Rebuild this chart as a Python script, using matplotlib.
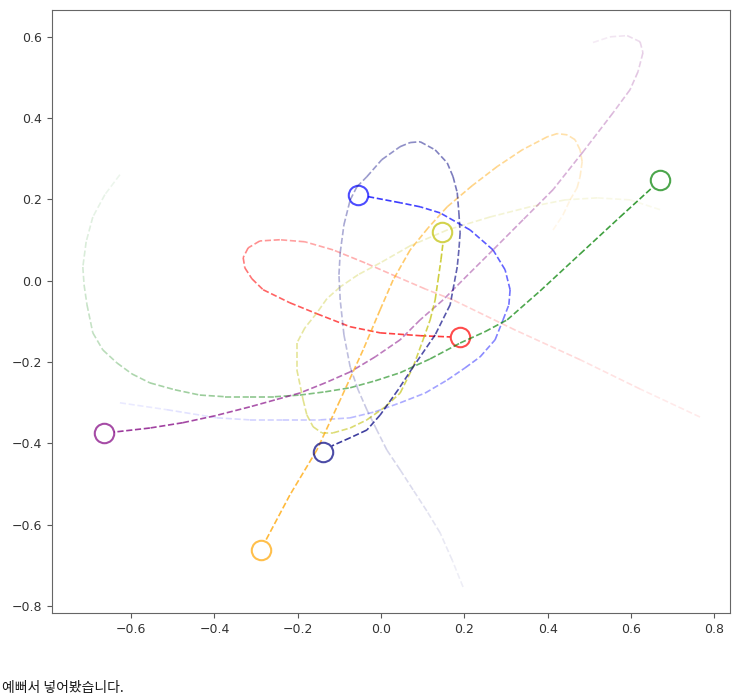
import matplotlib
matplotlib.use('Agg')
from matplotlib import pyplot as plt

# trajectories, oldest point first; the line stops at the edge of the circle
red_x = [0.766, 0.622, 0.478, 0.322, 0.173, 0.106, 0.038, -0.038, -0.115, -0.183, -0.243, -0.291, -0.319, -0.331, -0.327, -0.310,
         -0.283, -0.219, -0.154, -0.074, -0.002, 0.094, 0.166]
red_y = [-0.335, -0.266, -0.194, -0.121, -0.047, -0.020, 0.010, 0.044, 0.076, 0.096, 0.101, 0.098, 0.081, 0.057, 0.032, 0.005,
         -0.022, -0.054, -0.081, -0.113, -0.128, -0.135, -0.138]

blue_x = [-0.627, -0.514, -0.394, -0.315, -0.235, -0.146, -0.074, -0.014, 0.046, 0.106, 0.159, 0.202, 0.238, 0.274, 0.293, 0.307,
          0.310, 0.298, 0.269, 0.214, 0.142, 0.094, 0.046, -0.031]
blue_y = [-0.300, -0.317, -0.337, -0.342, -0.342, -0.342, -0.337, -0.322, -0.300, -0.276, -0.244, -0.214, -0.187, -0.145, -0.096, -0.059,
          -0.022, 0.027, 0.076, 0.125, 0.167, 0.182, 0.192, 0.207]

green_x = [-0.627, -0.663, -0.692, -0.708, -0.716, -0.713, -0.706, -0.692, -0.668, -0.634, -0.598, -0.555, -0.495, -0.435, -0.375,
           -0.315, -0.255, -0.195, -0.134, -0.074, -0.014, 0.046, 0.118, 0.190, 0.250, 0.303, 0.382, 0.478, 0.574, 0.651]
green_y = [0.261, 0.212, 0.157, 0.096, 0.034, -0.010, -0.059, -0.128, -0.170, -0.202, -0.229, -0.251, -0.268, -0.281, -0.285,
           -0.285, -0.285, -0.281, -0.273, -0.263, -0.246, -0.226, -0.192, -0.153, -0.125, -0.096, -0.025, 0.066, 0.157, 0.229]

purple_x = [0.509, 0.550, 0.591, 0.622, 0.629, 0.617, 0.598, 0.557, 0.485, 0.413, 0.341, 0.269, 0.209, 0.149, 0.094, 0.046,
            -0.014, -0.074, -0.134, -0.195, -0.255, -0.315, -0.399, -0.476, -0.555, -0.641]
purple_y = [0.586, 0.600, 0.603, 0.588, 0.561, 0.514, 0.470, 0.413, 0.317, 0.224, 0.150, 0.076, 0.015, -0.047, -0.096, -0.145,
            -0.187, -0.224, -0.251, -0.276, -0.293, -0.310, -0.332, -0.349, -0.362, -0.372]

yellow_x = [0.670, 0.598, 0.519, 0.442, 0.358, 0.262, 0.159, 0.070, -0.002, -0.055, -0.098, -0.130, -0.154, -0.183, -0.202, -0.202,
            -0.187, -0.178, -0.163, -0.142, -0.115, -0.074, -0.034, 0.010, 0.046, 0.077, 0.101, 0.118, 0.130, 0.137, 0.144, 0.149]
yellow_y = [0.175, 0.199, 0.204, 0.199, 0.182, 0.157, 0.125, 0.086, 0.044, 0.015, -0.015, -0.044, -0.079, -0.116, -0.153, -0.219,
            -0.293, -0.330, -0.359, -0.374, -0.374, -0.362, -0.342, -0.310, -0.276, -0.212, -0.145, -0.096, -0.047, 0.002, 0.052, 0.094]

orange_x = [0.413, 0.437, 0.454, 0.471, 0.478, 0.483, 0.478, 0.466, 0.447, 0.423, 0.399, 0.339, 0.279, 0.219, 0.159, 0.113,
            0.070, 0.029, -0.002, -0.043, -0.098, -0.154, -0.219, -0.276]
orange_y = [0.125, 0.162, 0.199, 0.229, 0.256, 0.293, 0.322, 0.347, 0.359, 0.362, 0.354, 0.322, 0.281, 0.234, 0.182, 0.130,
            0.076, 0.002, -0.071, -0.170, -0.293, -0.416, -0.527, -0.637]

navy_x = [0.197, 0.171, 0.142, 0.110, 0.077, 0.046, 0.014, -0.010, -0.034, -0.055, -0.074, -0.089, -0.098, -0.101, -0.098, -0.089,
          -0.074, -0.058, -0.034, 0.002, 0.046, 0.070, 0.094, 0.130, 0.159, 0.173, 0.183, 0.187, 0.190, 0.187, 0.183, 0.175,
          0.166, 0.130, 0.077, 0.041, -0.002, -0.034, -0.074, -0.118]
navy_y = [-0.753, -0.687, -0.620, -0.566, -0.514, -0.465, -0.416, -0.367, -0.317, -0.268, -0.212, -0.133, -0.047, 0.015, 0.069, 0.138,
          0.199, 0.231, 0.256, 0.298, 0.330, 0.340, 0.342, 0.322, 0.290, 0.256, 0.217, 0.167, 0.118, 0.076, 0.034, -0.010,
          -0.059, -0.133, -0.212, -0.268, -0.330, -0.367, -0.386, -0.406]

# current positions (circles)
end_x = [0.190, -0.055, 0.670, -0.665, 0.147, -0.288, -0.139]
end_y = [-0.138, 0.212, 0.249, -0.374, 0.121, -0.662, -0.421]
colors = ['red', 'blue', 'green', 'purple', 'y', 'orange', 'navy']

paths = [(red_x, red_y), (blue_x, blue_y), (green_x, green_y), (purple_x, purple_y),
         (yellow_x, yellow_y), (orange_x, orange_y), (navy_x, navy_y)]

fig = plt.figure(figsize=(7.43, 6.99), dpi=100)
ax = fig.add_axes([0.070, 0.123, 0.9125, 0.8627])

for (xs, ys), c, ex, ey in zip(paths, colors, end_x, end_y):
    n = len(xs) - 1
    for i in range(n):
        a = 0.05 + 0.72 * (i + 1) / n
        ax.plot(xs[i:i + 2], ys[i:i + 2], '--', color=c, alpha=a, lw=1.2)
    ax.plot(ex, ey, 'o', ms=14, mfc='none', mec=c, mew=1.5, alpha=0.7)

ax.set_xlim(-0.79, 0.838)
ax.set_ylim(-0.817, 0.666)
ax.set_xticks([-0.6, -0.4, -0.2, 0.0, 0.2, 0.4, 0.6, 0.8])
ax.set_yticks([-0.8, -0.6, -0.4, -0.2, 0.0, 0.2, 0.4, 0.6])
for s in ax.spines.values():
    s.set_color('0.4')
ax.tick_params(colors='0.35', labelsize=9, labelcolor='0.2')

fig.text(0.003, 0.016, '예뻐서 넣어봤습니다.', fontsize=10, va='center', ha='left',
         family=['Noto Sans CJK KR', 'DejaVu Sans'], color='0.1')

fig.savefig('out.png', dpi=100)
